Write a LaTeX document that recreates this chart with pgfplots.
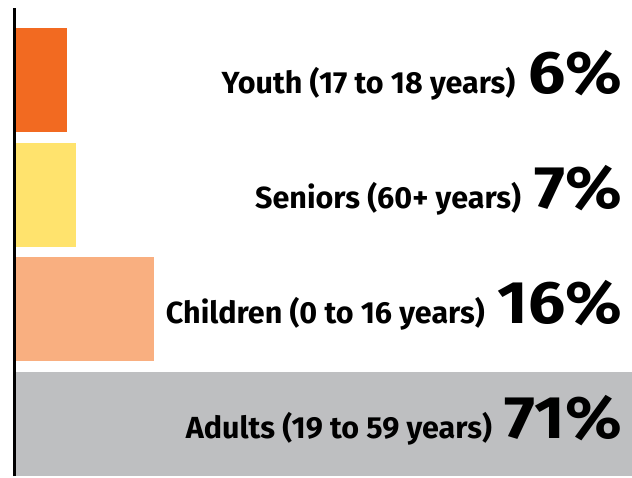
\documentclass[border=0pt]{standalone}
\usepackage{pgfplots}
\pgfplotsset{compat=1.18}
\usepackage{fontspec}
\setmainfont{Fira Sans}

\definecolor{youthorange}{RGB}{242,106,33}
\definecolor{senioryellow}{RGB}{255,227,109}
\definecolor{childpeach}{RGB}{249,175,128}
\definecolor{adultgray}{RGB}{190,191,193}

\newcommand{\lab}[2]{{\fontsize{30.5}{30.5}\selectfont\bfseries #1}\hspace{13pt}\scalebox{1.1}[1]{\fontsize{60}{60}\selectfont\bfseries #2\%}}

\begin{document}
\begin{tikzpicture}
\begin{axis}[
width=632pt, height=476pt,
scale only axis,
axis lines=none,
xmin=-1.73, xmax=71,
ymin=-0.453, ymax=3.697,
xbar, bar width=104pt, bar shift=0pt,
clip=false,
]
\path (rel axis cs:0,0) rectangle (rel axis cs:1,1);
\addplot [draw=none, fill=adultgray] coordinates {(71,0)};
\addplot [draw=none, fill=childpeach] coordinates {(16,1)};
\addplot [draw=none, fill=senioryellow] coordinates {(7,2)};
\addplot [draw=none, fill=youthorange] coordinates {(6,3)};

\draw [black, line width=2.5pt] (axis cs:-0.08,-0.453) -- (axis cs:-0.08,3.628);

\node [anchor=base east, inner sep=0pt] at (axis cs:69.9,-0.122) {\lab{Adults (19 to 59 years)}{71}};
\node [anchor=base east, inner sep=0pt] at (axis cs:69.9,0.878) {\lab{Children (0 to 16 years)}{16}};
\node [anchor=base east, inner sep=0pt] at (axis cs:69.9,1.878) {\lab{Seniors (60+ years)}{7}};
\node [anchor=base east, inner sep=0pt] at (axis cs:69.9,2.878) {\lab{Youth (17 to 18 years)}{6}};
\end{axis}
\end{tikzpicture}
\end{document}
